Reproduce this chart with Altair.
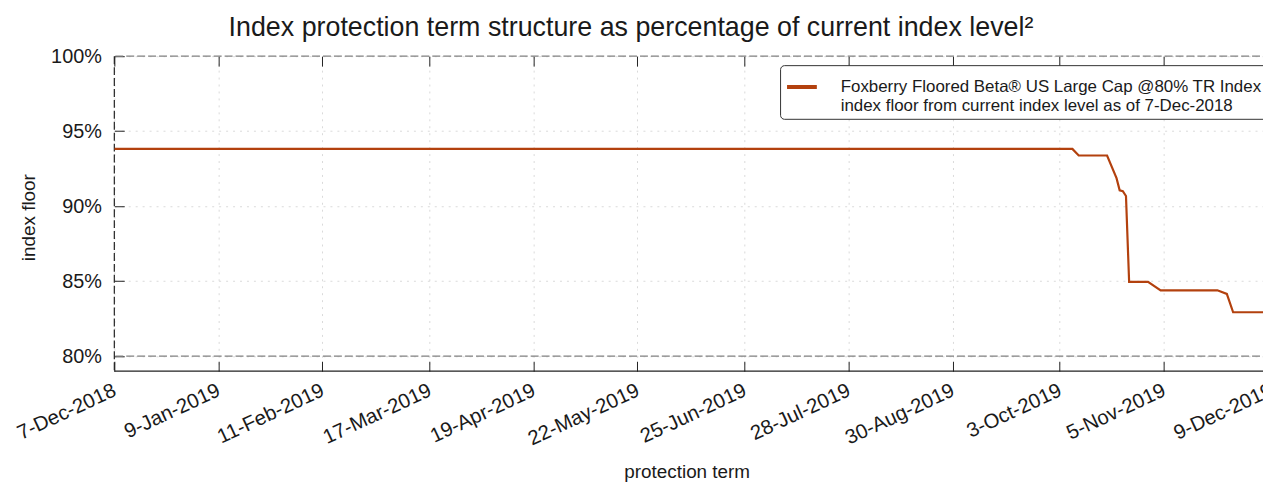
import altair as alt
import pandas as pd

# ---------------- data ----------------
series_name = ("Foxberry Floored Beta® US Large Cap @80% TR Index|"
               "index floor from current index level as of 7-Dec-2018")

dates = ["2018-12-07", "2019-10-07", "2019-10-09", "2019-10-18", "2019-10-21",
         "2019-10-22", "2019-10-23", "2019-10-24", "2019-10-25", "2019-10-31",
         "2019-11-04", "2019-11-22", "2019-11-25", "2019-11-27", "2019-12-09"]
floors = [93.82, 93.82, 93.38, 93.38, 91.87,
          91.06, 91.00, 90.68, 84.95, 84.95,
          84.39, 84.39, 84.15, 82.93, 82.93]

tick_dates = ["2018-12-07", "2019-01-09", "2019-02-11", "2019-03-17",
              "2019-04-19", "2019-05-22", "2019-06-25", "2019-07-28",
              "2019-08-30", "2019-10-03", "2019-11-05", "2019-12-09"]
y_ticks = [80, 85, 90, 95, 100]
ref_lines = [80, 100]
y_min, y_max = 79, 100
x_start = "2018-12-07"
x_end = "2019-12-09"

title_text = "Index protection term structure as percentage of current index level²"
x_title = "protection term"
y_title = "index floor"

FONT = "Liberation Sans"
TEXT = "#1a1a1a"
LINE_COLOR = "#B3410E"
GRID = "#dadada"
NBSP = "\u00a0"


def dt(s):
    ts = pd.Timestamp(s)
    return alt.DateTime(year=ts.year, month=ts.month, date=ts.day,
                        hours=ts.hour, utc=True)


df = pd.DataFrame({"date": dates, "floor": floors, "series": series_name})
ref_df = pd.DataFrame({"v": ref_lines})
bottom_df = pd.DataFrame({"v": [y_min]})

x_scale = alt.Scale(type="utc", domain=[dt(x_start), dt(x_end)])
y_scale = alt.Scale(domain=[y_min, y_max], nice=False, zero=False)
tick_vals = [dt(d) for d in tick_dates]

x_axis_bottom = alt.Axis(orient="bottom", values=tick_vals,
                         labelExpr="utcFormat(datum.value, '%-d-%b-%Y')",
                         labelAngle=-25, labelAlign="right", labelBaseline="top",
                         labelPadding=9, labelOffset=-4, labelFontSize=20.5,
                         labelFlush=False, labelOverlap=False, offset=-10,
                         tickSize=10, tickColor="#222", domain=False, grid=True,
                         gridDash=[2, 5], gridColor=GRID,
                         title=x_title, titleFontSize=19, titleFontWeight="normal",
                         titleX=576, titleY=117, titleBaseline="alphabetic")
x_axis_top = alt.Axis(orient="top", values=tick_vals, labels=False,
                      ticks=True, tickSize=10, tickColor="#222",
                      offset=-10, domain=False, grid=False, title=None)
y_axis = alt.Axis(orient="left", values=y_ticks, labelExpr="datum.value + '%'",
                  labelFontSize=20, labelPadding=13, offset=-10,
                  tickSize=10, tickColor="#222", domain=False,
                  grid=True, gridDash=[2, 5], gridColor=GRID,
                  title=y_title, titleFontSize=19, titleFontWeight="normal",
                  titleX=-90, titleY=162, titleBaseline="alphabetic")

legend_expr = ("[split(datum.label, '|')[0] + '" + NBSP + "', "
               "split(datum.label, '|')[1]]")

# ---------------- layers ----------------
ref_rules = alt.Chart(ref_df).mark_rule(color="#808080", strokeDash=[8, 3],
                                        strokeWidth=1.2).encode(
    y=alt.Y("v:Q", scale=y_scale, axis=y_axis))

bottom_rule = alt.Chart(bottom_df).mark_rule(color="#222", strokeWidth=1.3).encode(
    y=alt.Y("v:Q", scale=y_scale, axis=y_axis))

left_rule = alt.Chart(bottom_df).mark_rule(color="#222", strokeDash=[8, 3],
                                           strokeWidth=1.2).encode(
    x=alt.value(0), y=alt.value(0), y2=alt.value(317))

top_ticks = alt.Chart(df).mark_line(opacity=0).encode(
    x=alt.X("date:T", scale=x_scale, axis=x_axis_top),
    y=alt.Y("floor:Q", scale=y_scale, axis=y_axis),
)

line = alt.Chart(df).mark_line(strokeWidth=2.2, clip=True).encode(
    x=alt.X("date:T", scale=x_scale, axis=x_axis_bottom),
    y=alt.Y("floor:Q", scale=y_scale, axis=y_axis),
    color=alt.Color("series:N", scale=alt.Scale(range=[LINE_COLOR]),
                    legend=alt.Legend(title=None, orient="none", legendX=670,
                                      legendY=9, symbolType="stroke",
                                      symbolStrokeWidth=4, symbolSize=900,
                                      labelFontSize=17, labelLimit=1000,
                                      labelExpr=legend_expr,
                                      labelOffset=22, padding=5,
                                      strokeColor="#333", fillColor="white",
                                      cornerRadius=4, labelColor=TEXT,
                                      labelFont=FONT)),
)

chart = alt.layer(ref_rules, bottom_rule, left_rule, top_ticks, line).properties(
    width=1164, height=317,
    autosize=alt.AutoSizeParams(type="none"),
    padding={"left": 107, "top": 47, "right": -8, "bottom": 110},
    title=alt.TitleParams(text=title_text, anchor="start", frame="group", dx=115,
                          dy=34, fontSize=27, fontWeight="normal", font=FONT,
                          color=TEXT, baseline="alphabetic", offset=17),
).configure_view(stroke=None).configure_axis(
    labelFont=FONT, titleFont=FONT, labelColor=TEXT, titleColor=TEXT
).configure_legend(labelFont=FONT)

chart.save("out.html", embed_options={"renderer": "svg", "actions": False})
